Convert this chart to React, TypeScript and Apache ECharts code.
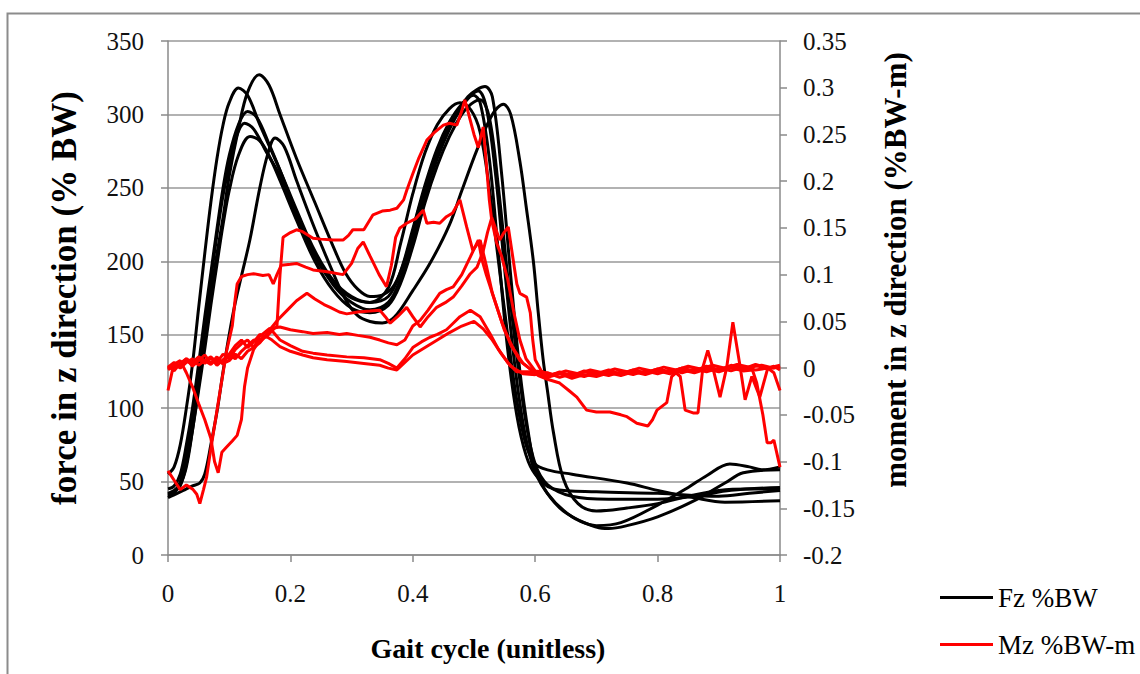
import React, { useEffect, useRef } from 'react';
import * as echarts from 'echarts';

// ---- Data (x = gait cycle, y = value) ----
const fzA = [[0,55],[0.01,60],[0.02,75],[0.03,100],[0.04,130],[0.05,168],[0.06,205],[0.07,240],[0.08,270],[0.09,293],[0.1,308],[0.115,318],[0.13,313],[0.15,293],[0.183,262],[0.21,235],[0.24,207],[0.27,187],[0.3,176],[0.33,172],[0.36,182],[0.38,212],[0.4,246],[0.42,274],[0.44,293],[0.46,304],[0.477,308],[0.495,303],[0.51,288],[0.525,250],[0.54,200],[0.555,150],[0.57,105],[0.585,75],[0.6,62],[0.62,58],[0.66,55],[0.75,49],[0.8,44],[0.86,39],[0.91,36],[1,37]];
const fzB = [[0,42],[0.01,44],[0.02,48],[0.03,60],[0.04,85],[0.05,115],[0.06,148],[0.07,178],[0.08,205],[0.09,230],[0.1,258],[0.115,290],[0.13,315],[0.149,327],[0.165,320],[0.183,300],[0.21,270],[0.24,240],[0.27,210],[0.29,192],[0.31,181],[0.33,176],[0.35,177],[0.37,184],[0.39,205],[0.41,236],[0.43,262],[0.45,283],[0.47,300],[0.49,312],[0.505,317],[0.518,319],[0.53,312],[0.545,260],[0.56,190],[0.575,125],[0.59,80],[0.6,60],[0.62,42],[0.66,26],[0.7,19],[0.72,18],[0.75,20],[0.8,26],[0.86,37],[0.91,49],[0.94,56],[1,58]];
const fzC = [[0,45],[0.01,47],[0.02,55],[0.03,75],[0.04,100],[0.05,130],[0.06,162],[0.07,192],[0.08,222],[0.09,250],[0.1,272],[0.115,293],[0.13,302],[0.145,298],[0.165,280],[0.183,262],[0.21,233],[0.24,205],[0.27,184],[0.3,172],[0.33,167],[0.36,172],[0.38,188],[0.4,215],[0.42,245],[0.44,270],[0.46,290],[0.48,305],[0.495,313],[0.507,316],[0.52,305],[0.535,260],[0.55,195],[0.565,135],[0.58,90],[0.595,62],[0.61,48],[0.64,32],[0.67,24],[0.7,20],[0.74,22],[0.8,34],[0.85,46],[0.88,54],[0.918,62],[0.95,60],[0.97,58],[1,60]];
const fzD = [[0,40],[0.01,42],[0.02,50],[0.03,70],[0.04,95],[0.05,125],[0.06,157],[0.07,188],[0.08,218],[0.09,245],[0.1,265],[0.112,285],[0.125,294],[0.14,290],[0.16,275],[0.183,258],[0.21,230],[0.24,203],[0.27,185],[0.3,175],[0.33,172],[0.36,176],[0.38,193],[0.4,222],[0.42,252],[0.44,277],[0.46,295],[0.48,307],[0.499,313],[0.51,308],[0.525,270],[0.54,205],[0.555,140],[0.57,95],[0.585,68],[0.6,55],[0.63,45],[0.7,43],[0.8,42],[0.9,40],[0.95,42],[1,44]];
const fzE = [[0,41],[0.01,43],[0.02,47],[0.03,62],[0.04,85],[0.05,112],[0.06,140],[0.07,170],[0.08,198],[0.09,225],[0.1,248],[0.115,272],[0.134,285],[0.15,282],[0.165,272],[0.183,255],[0.21,228],[0.24,200],[0.27,180],[0.3,168],[0.33,165],[0.36,170],[0.38,185],[0.4,210],[0.42,240],[0.44,265],[0.46,285],[0.48,300],[0.495,307],[0.51,310],[0.525,298],[0.54,250],[0.555,190],[0.57,135],[0.585,90],[0.6,62],[0.62,48],[0.66,40],[0.72,38],[0.8,38],[0.86,40],[0.92,44],[1,46]];
const fzF = [[0,39],[0.01,41],[0.025,44],[0.04,47],[0.052,49],[0.06,55],[0.07,75],[0.081,100],[0.09,125],[0.1,150],[0.11,172],[0.12,190],[0.134,215],[0.15,250],[0.163,273],[0.175,284],[0.19,278],[0.21,255],[0.24,222],[0.27,192],[0.29,174],[0.31,163],[0.33,159],[0.35,158],[0.37,162],[0.4,180],[0.43,200],[0.46,225],[0.48,248],[0.505,276],[0.53,300],[0.548,307],[0.56,300],[0.575,268],[0.585,238],[0.597,200],[0.605,165],[0.613,133],[0.62,112],[0.63,83],[0.646,52],[0.67,35],[0.7,30],[0.75,32],[0.8,35],[0.85,40],[0.9,44],[0.95,45],[1,45]];

const mz1 = [[0,0.0],[0.01,0.004],[0.02,0.008],[0.03,-0.005],[0.04,-0.02],[0.05,-0.038],[0.06,-0.055],[0.07,-0.075],[0.076,-0.1],[0.082,-0.112],[0.088,-0.09],[0.095,-0.085],[0.105,-0.078],[0.113,-0.072],[0.12,-0.055],[0.125,-0.02],[0.13,0.0],[0.14,0.02],[0.15,0.03],[0.16,0.035],[0.17,0.04],[0.178,0.045],[0.183,0.1],[0.188,0.14],[0.2,0.145],[0.21,0.148],[0.22,0.146],[0.237,0.139],[0.25,0.138],[0.27,0.137],[0.286,0.137],[0.295,0.142],[0.302,0.148],[0.32,0.148],[0.335,0.164],[0.35,0.168],[0.363,0.169],[0.374,0.171],[0.385,0.18],[0.39,0.19],[0.4,0.208],[0.41,0.225],[0.423,0.244],[0.435,0.252],[0.45,0.26],[0.46,0.262],[0.472,0.26],[0.48,0.275],[0.485,0.287],[0.492,0.27],[0.5,0.25],[0.507,0.236],[0.515,0.258],[0.52,0.22],[0.525,0.18],[0.529,0.158],[0.537,0.134],[0.545,0.12],[0.555,0.095],[0.565,0.06],[0.575,0.03],[0.585,0.01],[0.6,-0.003],[0.61,-0.004],[0.63,-0.007],[0.65,-0.003],[0.67,-0.006],[0.69,-0.002],[0.71,-0.005],[0.73,-0.001],[0.75,-0.004],[0.77,0.0],[0.79,-0.003],[0.81,0.001],[0.83,-0.002],[0.85,0.002],[0.87,-0.001],[0.89,0.003],[0.91,0.0],[0.93,0.004],[0.95,0.001],[0.97,0.003],[0.99,0.0],[1,0.002]];
const mz2 = [[0,-0.11],[0.01,-0.12],[0.02,-0.13],[0.03,-0.125],[0.041,-0.13],[0.047,-0.135],[0.052,-0.145],[0.058,-0.13],[0.063,-0.117],[0.068,-0.095],[0.074,-0.07],[0.085,-0.025],[0.096,0.019],[0.105,0.045],[0.11,0.075],[0.113,0.09],[0.12,0.098],[0.13,0.1],[0.14,0.101],[0.155,0.099],[0.165,0.1],[0.172,0.09],[0.178,0.1],[0.185,0.11],[0.2,0.111],[0.21,0.112],[0.225,0.108],[0.237,0.105],[0.26,0.103],[0.286,0.1],[0.3,0.112],[0.31,0.128],[0.319,0.135],[0.33,0.12],[0.345,0.1],[0.357,0.087],[0.365,0.11],[0.372,0.14],[0.379,0.15],[0.39,0.155],[0.405,0.16],[0.417,0.169],[0.423,0.155],[0.434,0.156],[0.444,0.155],[0.455,0.162],[0.465,0.166],[0.477,0.18],[0.488,0.151],[0.498,0.126],[0.51,0.137],[0.52,0.11],[0.53,0.08],[0.545,0.05],[0.56,0.025],[0.575,0.008],[0.59,0.0],[0.605,-0.008],[0.62,-0.012],[0.64,-0.016],[0.655,-0.024],[0.668,-0.031],[0.684,-0.045],[0.7,-0.047],[0.722,-0.047],[0.74,-0.05],[0.75,-0.052],[0.766,-0.059],[0.784,-0.062],[0.792,-0.055],[0.799,-0.045],[0.815,-0.037],[0.823,-0.009],[0.83,-0.005],[0.837,-0.009],[0.845,-0.045],[0.858,-0.048],[0.866,-0.048],[0.874,0.001],[0.882,0.019],[0.89,0.001],[0.902,-0.031],[0.913,0.001],[0.923,0.049],[0.935,0.001],[0.943,-0.034],[0.954,-0.009],[0.967,-0.031],[0.98,0.0],[0.99,0.002],[1,-0.002]];
const mz3 = [[0,0.002],[0.01,-0.003],[0.02,0.005],[0.03,0.01],[0.04,0.006],[0.05,0.012],[0.06,0.008],[0.07,0.004],[0.08,0.01],[0.09,0.005],[0.1,0.008],[0.11,0.015],[0.12,0.01],[0.13,0.018],[0.14,0.022],[0.15,0.027],[0.165,0.04],[0.18,0.052],[0.195,0.062],[0.21,0.072],[0.227,0.08],[0.24,0.074],[0.255,0.068],[0.265,0.065],[0.28,0.06],[0.292,0.058],[0.31,0.06],[0.33,0.061],[0.346,0.062],[0.355,0.055],[0.363,0.048],[0.375,0.055],[0.39,0.065],[0.4,0.055],[0.412,0.044],[0.425,0.055],[0.439,0.065],[0.453,0.07],[0.466,0.076],[0.48,0.088],[0.494,0.101],[0.505,0.108],[0.515,0.125],[0.522,0.145],[0.529,0.161],[0.535,0.15],[0.542,0.137],[0.549,0.145],[0.556,0.151],[0.564,0.116],[0.57,0.09],[0.575,0.08],[0.586,0.076],[0.592,0.059],[0.596,0.03],[0.6,0.009],[0.61,-0.003],[0.62,-0.008],[0.64,-0.005],[0.66,-0.009],[0.68,-0.004],[0.7,-0.007],[0.72,-0.003],[0.74,-0.006],[0.76,-0.002],[0.78,-0.005],[0.8,-0.001],[0.82,-0.004],[0.84,0.0],[0.86,-0.003],[0.88,0.002],[0.9,-0.002],[0.92,0.003],[0.94,-0.001],[0.96,0.004],[0.98,0.0],[1,0.003]];
const mz4 = [[0,-0.002],[0.01,0.004],[0.02,0.0],[0.03,0.006],[0.04,0.01],[0.05,0.003],[0.06,0.008],[0.07,0.012],[0.08,0.006],[0.09,0.015],[0.1,0.01],[0.11,0.02],[0.12,0.026],[0.13,0.03],[0.14,0.022],[0.15,0.034],[0.165,0.042],[0.183,0.044],[0.2,0.041],[0.22,0.039],[0.237,0.037],[0.26,0.038],[0.28,0.036],[0.292,0.037],[0.31,0.035],[0.33,0.033],[0.346,0.03],[0.36,0.027],[0.374,0.025],[0.387,0.03],[0.4,0.045],[0.412,0.051],[0.425,0.062],[0.444,0.08],[0.455,0.084],[0.466,0.087],[0.48,0.1],[0.494,0.119],[0.507,0.137],[0.513,0.116],[0.52,0.1],[0.53,0.08],[0.54,0.06],[0.55,0.04],[0.565,0.02],[0.58,0.005],[0.6,-0.005],[0.62,-0.01],[0.64,-0.006],[0.66,-0.011],[0.68,-0.007],[0.7,-0.009],[0.72,-0.005],[0.74,-0.008],[0.76,-0.004],[0.78,-0.007],[0.8,-0.003],[0.82,-0.006],[0.84,-0.002],[0.86,-0.005],[0.88,-0.001],[0.9,-0.004],[0.92,0.0],[0.94,-0.003],[0.955,-0.002],[0.962,-0.016],[0.972,-0.05],[0.979,-0.08],[0.985,-0.08],[0.99,-0.077],[1,-0.106]];
const mz5 = [[0,-0.024],[0.008,0.0],[0.02,0.004],[0.03,0.01],[0.04,0.002],[0.05,0.008],[0.06,0.014],[0.07,0.005],[0.08,0.012],[0.09,0.004],[0.1,0.015],[0.11,0.024],[0.12,0.03],[0.13,0.022],[0.14,0.028],[0.15,0.036],[0.16,0.033],[0.17,0.04],[0.183,0.03],[0.2,0.024],[0.22,0.018],[0.237,0.016],[0.26,0.014],[0.292,0.012],[0.32,0.011],[0.346,0.009],[0.36,0.005],[0.374,0.0],[0.387,0.01],[0.4,0.022],[0.414,0.028],[0.428,0.033],[0.44,0.036],[0.455,0.041],[0.466,0.048],[0.477,0.055],[0.494,0.062],[0.51,0.055],[0.526,0.037],[0.54,0.02],[0.555,0.006],[0.57,-0.004],[0.6,-0.004],[0.62,-0.009],[0.64,-0.004],[0.66,-0.008],[0.68,-0.003],[0.7,-0.006],[0.72,-0.002],[0.74,-0.007],[0.76,-0.003],[0.78,-0.006],[0.8,-0.002],[0.82,-0.005],[0.84,0.0],[0.86,-0.004],[0.88,0.001],[0.9,-0.003],[0.92,0.002],[0.94,-0.002],[0.96,0.003],[0.98,-0.001],[1,0.002]];
const mz6 = [[0,0.001],[0.01,0.006],[0.02,0.002],[0.03,0.008],[0.04,0.004],[0.05,0.01],[0.06,0.005],[0.07,0.011],[0.08,0.003],[0.09,0.009],[0.1,0.014],[0.11,0.01],[0.12,0.018],[0.13,0.024],[0.14,0.03],[0.15,0.028],[0.16,0.034],[0.17,0.03],[0.183,0.023],[0.2,0.018],[0.22,0.014],[0.237,0.011],[0.26,0.009],[0.292,0.007],[0.32,0.005],[0.346,0.003],[0.36,0.0],[0.374,-0.002],[0.387,0.006],[0.4,0.014],[0.42,0.022],[0.44,0.03],[0.46,0.038],[0.48,0.045],[0.5,0.05],[0.515,0.042],[0.53,0.03],[0.545,0.015],[0.56,0.002],[0.58,-0.006],[0.6,-0.007],[0.62,-0.005],[0.64,-0.01],[0.66,-0.006],[0.68,-0.009],[0.7,-0.005],[0.72,-0.008],[0.74,-0.004],[0.76,-0.007],[0.78,-0.003],[0.8,-0.006],[0.82,-0.002],[0.84,-0.005],[0.86,-0.001],[0.88,-0.004],[0.9,0.0],[0.92,-0.003],[0.94,0.001],[0.96,-0.002],[0.98,0.0],[0.99,-0.005],[1,-0.024]];

const forceSeries = [fzA, fzB, fzC, fzD, fzE, fzF];
const momentSeries = [mz1, mz2, mz3, mz4, mz5, mz6];

const FORCE_NAME = 'Fz %BW';
const MOMENT_NAME = 'Mz %BW-m';
const X_NAME = 'Gait cycle (unitless)';
const LEFT_NAME = 'force in z direction (% BW)';
const RIGHT_NAME = 'moment in z direction (%BW-m)';

const SERIF = "'Liberation Serif', 'Times New Roman', serif";

export default function App() {
  const ref = useRef<HTMLDivElement>(null);
  useEffect(() => {
    if (!ref.current) return;
    const chart = echarts.init(ref.current, undefined, { renderer: 'svg' });
    const axisGray = '#8a8a8a';
    const labelStyle = { fontFamily: SERIF, fontSize: 25, color: '#111' };
    const nameStyle = { fontFamily: SERIF, fontSize: 31, fontWeight: 'bold' as const, color: '#000' };
    const series: any[] = [];
    forceSeries.forEach((d) => {
      series.push({
        name: FORCE_NAME, type: 'line', yAxisIndex: 0, data: d, showSymbol: false, smooth: 0.35,
        lineStyle: { color: '#000', width: 3 }, itemStyle: { color: '#000' }, z: 2,
      });
    });
    momentSeries.forEach((d) => {
      series.push({
        name: MOMENT_NAME, type: 'line', yAxisIndex: 1, data: d, showSymbol: false, smooth: false,
        lineStyle: { color: '#ff0000', width: 3 }, itemStyle: { color: '#ff0000' }, z: 3,
      });
    });
    chart.setOption({
      animation: false,
      backgroundColor: '#fff',
      grid: { left: 168, right: 360, top: 41, bottom: 119, containLabel: false },
      xAxis: {
        type: 'value', min: 0, max: 1, interval: 0.2,
        name: X_NAME, nameLocation: 'middle', nameGap: 79,
        nameTextStyle: { ...nameStyle, fontSize: 28, padding: [0, 0, 0, 28] },
        axisLine: { show: true, lineStyle: { color: axisGray, width: 1.5 } },
        axisTick: { show: true, length: 7, lineStyle: { color: axisGray, width: 1.5 } },
        axisLabel: { ...labelStyle, margin: 26, formatter: (v: number) => String(parseFloat(v.toFixed(2))) },
        splitLine: { show: false },
      },
      yAxis: [
        {
          type: 'value', min: 0, max: 350, interval: 50, position: 'left',
          name: LEFT_NAME, nameLocation: 'middle', nameGap: 86,
          nameTextStyle: { ...nameStyle, fontSize: 35 },
          axisLine: { show: true, lineStyle: { color: axisGray, width: 1.5 } },
          axisTick: { show: true, length: 7, lineStyle: { color: axisGray, width: 1.5 } },
          axisLabel: { ...labelStyle, margin: 24 },
          splitLine: { show: true, lineStyle: { color: '#999', width: 1.5 } },
        },
        {
          type: 'value', min: -0.2, max: 0.35, interval: 0.05, position: 'right',
          name: RIGHT_NAME, nameLocation: 'middle', nameGap: 100,
          nameTextStyle: { ...nameStyle, padding: [0, 0, 0, 56] },
          axisLine: { show: true, lineStyle: { color: axisGray, width: 1.5 } },
          axisTick: { show: true, length: 7, lineStyle: { color: axisGray, width: 1.5 } },
          axisLabel: { ...labelStyle, margin: 23, formatter: (v: number) => String(parseFloat(v.toFixed(2))) },
          splitLine: { show: false },
        },
      ],
      legend: {
        orient: 'vertical', left: 935, top: 579, itemWidth: 53, itemHeight: 3, itemGap: 20,
        icon: 'rect', selectedMode: false,
        textStyle: { fontFamily: SERIF, fontSize: 27, color: '#000' },
        data: [
          { name: FORCE_NAME, itemStyle: { color: '#000' } },
          { name: MOMENT_NAME, itemStyle: { color: '#ff0000' } },
        ],
      },
      graphic: [
        {
          type: 'rect', left: 5, top: 11, silent: true,
          shape: { width: 1200, height: 700 },
          style: { fill: 'none', stroke: '#8c8c8c', lineWidth: 2 },
        },
      ],
      series,
    });
    return () => chart.dispose();
  }, []);
  return <div ref={ref} style={{ position: 'fixed', left: 0, top: 0, width: 1140, height: 674 }} />;
}
